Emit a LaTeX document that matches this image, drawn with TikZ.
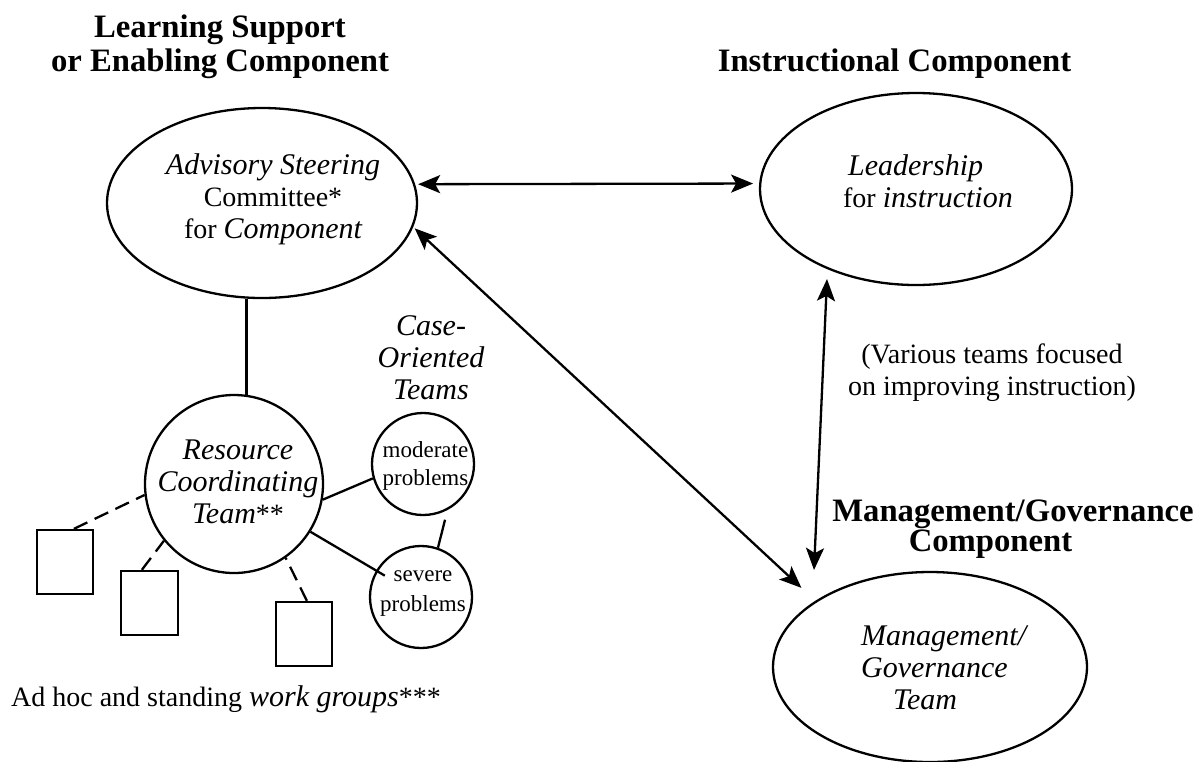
\documentclass[tikz,border=0pt]{standalone}
\usepackage{fontspec}
\setmainfont{Liberation Serif}
\usetikzlibrary{arrows.meta,shapes.geometric}
\newcommand\iti[1]{{\fontsize{30}{32}\selectfont\itshape #1}}
\begin{document}
\begin{tikzpicture}[x=1pt,y=-1pt,
  line width=2.3pt,
  txt/.style={inner sep=0pt, font=\fontsize{28}{32}\selectfont},
  ttl/.style={inner sep=0pt, font=\fontsize{32.7}{34}\selectfont\bfseries, align=center},
  oval/.style={draw, ellipse, inner sep=0pt},
  ring/.style={draw, circle, inner sep=0pt},
  box/.style={draw, rectangle, inner sep=0pt, minimum width=56pt, minimum height=64pt},
  dsh/.style={dash pattern=on 15pt off 8pt},
  biarrow/.style={{Stealth[length=22pt,width=18pt,inset=5pt]}-{Stealth[length=22pt,width=18pt,inset=5pt]}}
]
\useasboundingbox (0,0) rectangle (1198,761);

% ovals and circles
\node[oval, minimum width=310pt, minimum height=190pt] (adv) at (262,203) {};
\node[oval, minimum width=312pt, minimum height=192pt] (lead) at (916,189) {};
\node[oval, minimum width=314pt, minimum height=190pt] (mgmt) at (930,667) {};
\node[ring, minimum size=178pt] (rc) at (234,484) {};
\node[ring, minimum size=102pt] (mod) at (423,464) {};
\node[ring, minimum size=102pt] (sev) at (421,597) {};
\node[box] (sq1) at (65,562) {};
\node[box, minimum width=57pt] (sq2) at (149.5,603) {};
\node[box] (sq3) at (304,634) {};

% titles
\node[ttl] (t1) at (220,47) {Learning Support\\or Enabling Component};
\node[ttl] (t2) at (894.5,64) {Instructional Component};
\node[ttl, font=\fontsize{32.7}{30}\selectfont\bfseries] (t3) at (1013,529) {Management/Governance\\Component\hspace*{45pt}};

% texts
\node[txt, align=center] (advt) at (273,199) {\iti{Advisory Steering}\\Committee*\\for \iti{Component}};
\node[txt, align=left, anchor=west] (leadt) at (842,181) {\hspace*{5pt}\iti{Leadership}\\for \iti{instruction}};
\node[txt, align=left, anchor=west] (mgmtt) at (860,668) {\iti{Management/}\\\iti{Governance}\\\hspace*{32pt}\iti{Team}};
\node[txt, align=center] (rct) at (238,482) {\iti{Resource}\\\iti{Coordinating}\\\iti{Team}**};
\node[txt, align=center] (caset) at (431,358) {\iti{Case-}\\\iti{Oriented}\\\iti{Teams}};
\node[txt, align=center, font=\fontsize{23}{28}\selectfont] (modt) at (425.5,466) {moderate\\problems};
\node[txt, align=center, font=\fontsize{23}{30}\selectfont] (sevt) at (423,594) {severe\\problems};
\node[txt, anchor=west] (cap) at (10,699) {Ad hoc and standing \iti{work groups}***};
\node[txt, align=center] (vart) at (992,373) {(Various teams focused\\on improving instruction)};

% connectors
\coordinate (v1) at (827,279);
\coordinate (v2) at (814,570);
\draw[biarrow, shorten <=3pt, shorten >=6pt] (adv.7) -- (lead.178);
\draw[biarrow, shorten <=2pt, shorten >=19pt] (adv.-9) -- (mgmt.150);
\draw[biarrow] (v1) -- (v2);
\draw (rc.82) -- (rc.82 |- adv.south);
\draw (rc.-10) -- (mod.196);
\draw[shorten >=42pt] (rc.-32) -- (sev.center);
\draw[shorten <=10pt] (mod.-62) -- (sev.71);
\draw[dsh] (sq1.75) -- (rc.187);
\draw[dsh] (sq2.103) -- (rc.219);
\draw[dsh] (sq3.85) -- (rc.305);
\end{tikzpicture}
\end{document}
